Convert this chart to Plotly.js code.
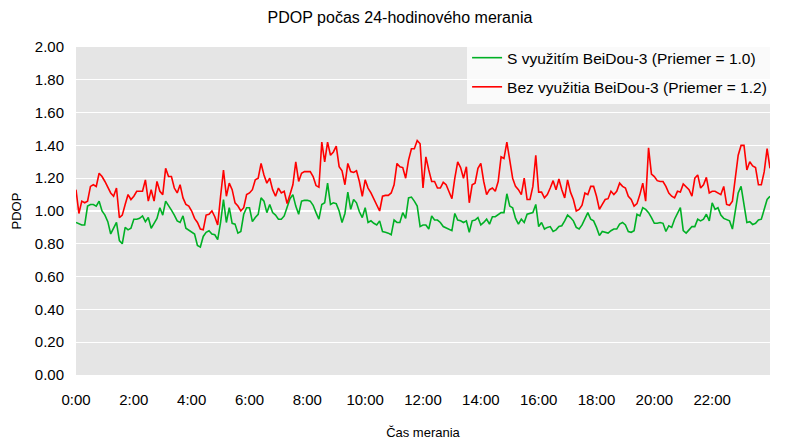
<!DOCTYPE html>
<html>
<head>
<meta charset="utf-8">
<script src="https://cdn.plot.ly/plotly-3.0.1.min.js"></script>
<style>html,body{margin:0;padding:0;background:#fff;}#chart{width:800px;height:443px;}</style>
</head>
<body>
<div id="chart"></div>
<script>
// sampling of the measurement (one sample every 6 minutes, starting 0:00)
const stepMinutes = 6;

const pdopWithBds3 = [
0.93,0.92,0.915,0.915,1.03,1.04,1.04,1.03,1.06,1.00,0.975,0.935,0.86,0.895,0.93,0.82,0.80,0.90,0.885,0.895,
0.95,0.95,0.955,0.97,0.935,0.96,0.895,0.925,0.955,1.02,0.975,1.06,1.035,1.005,0.975,0.94,0.93,0.97,0.895,0.885,
0.87,0.86,0.79,0.78,0.845,0.87,0.88,0.86,0.855,0.825,0.93,1.07,0.93,1.02,0.925,0.92,0.865,0.875,0.98,1.02,
1.02,0.935,0.96,0.98,1.08,1.06,0.99,1.04,0.99,0.975,0.95,0.95,0.97,1.03,1.075,1.10,1.03,0.98,1.06,1.065,
1.065,1.06,1.035,0.99,0.95,1.04,1.05,1.17,1.04,1.05,1.045,1.00,0.93,0.985,1.115,1.01,1.07,1.05,0.995,0.96,
1.02,0.93,0.94,0.925,0.915,0.94,0.875,0.87,0.865,0.855,0.945,0.93,0.93,0.99,0.955,1.08,1.085,1.06,1.03,0.905,
0.915,0.915,0.89,0.97,0.945,0.945,0.93,0.905,0.895,0.885,0.88,0.985,0.945,0.94,0.93,0.94,0.87,0.94,0.945,0.96,
0.915,0.93,0.95,0.92,0.965,0.965,0.98,0.99,0.99,1.105,1.03,1.02,0.955,0.92,0.95,0.93,0.98,0.985,0.99,1.04,
0.905,0.93,0.89,0.90,0.905,0.875,0.885,0.905,0.91,0.94,0.975,0.96,0.94,0.90,0.89,0.915,0.95,0.99,0.95,0.94,
0.90,0.85,0.875,0.87,0.865,0.88,0.89,0.89,0.92,0.93,0.915,0.875,0.87,0.88,0.98,0.97,1.02,1.01,0.99,0.96,
0.925,0.925,0.93,0.925,0.875,0.91,0.90,0.95,0.985,1.02,0.88,0.865,0.885,0.905,0.905,0.95,0.94,0.95,0.98,0.94,
1.05,1.01,1.02,0.975,0.955,0.945,0.94,0.89,0.99,1.11,1.15,1.03,0.93,0.935,0.918,0.925,0.945,0.95,1.005,1.07,
1.09
];

const pdopWithoutBds3 = [
1.13,0.985,1.06,1.05,1.06,1.15,1.16,1.15,1.23,1.21,1.18,1.14,1.11,1.09,1.14,0.96,0.975,1.04,1.10,1.07,
1.09,1.12,1.12,1.12,1.19,1.06,1.13,1.06,1.18,1.12,1.10,1.26,1.21,1.21,1.14,1.11,1.16,1.08,1.04,1.03,
1.00,0.955,0.93,0.89,0.885,0.975,0.98,1.00,0.965,0.915,1.09,1.25,1.09,1.17,1.13,1.05,1.03,1.00,1.02,1.10,
1.11,1.13,1.19,1.20,1.29,1.22,1.17,1.20,1.13,1.09,1.14,1.11,1.12,1.045,1.10,1.16,1.30,1.18,1.23,1.24,
1.24,1.24,1.21,1.155,1.145,1.42,1.30,1.42,1.34,1.36,1.395,1.27,1.245,1.16,1.29,1.24,1.235,1.245,1.18,1.09,
1.19,1.14,1.11,1.07,1.04,1.00,1.09,1.095,1.095,1.11,1.16,1.29,1.27,1.265,1.20,1.31,1.38,1.38,1.43,1.41,
1.14,1.33,1.25,1.18,1.18,1.14,1.14,1.175,1.16,1.12,1.075,1.20,1.30,1.265,1.20,1.27,1.05,1.16,1.17,1.26,
1.29,1.18,1.10,1.13,1.14,1.12,1.18,1.33,1.32,1.42,1.30,1.20,1.15,1.13,1.10,1.20,1.07,1.07,1.15,1.34,
1.115,1.115,1.08,1.10,1.14,1.185,1.13,1.195,1.13,1.08,1.19,1.115,1.07,1.00,1.01,1.035,1.11,1.10,1.15,1.15,
1.09,1.01,1.04,1.07,1.075,1.12,1.10,1.12,1.17,1.15,1.14,1.09,1.07,1.03,1.045,1.10,1.17,1.06,1.385,1.225,
1.21,1.185,1.18,1.18,1.15,1.11,1.09,1.08,1.12,1.115,1.165,1.15,1.13,1.09,1.20,1.22,1.14,1.16,1.205,1.11,
1.12,1.12,1.11,1.10,1.15,1.04,1.035,1.06,1.20,1.34,1.40,1.40,1.25,1.30,1.275,1.265,1.16,1.16,1.24,1.38,
1.26
];

const seriesNames = ['S využitím BeiDou-3 (Priemer = 1.0)', 'Bez využitia BeiDou-3 (Priemer = 1.2)'];
const tickHours = [0,2,4,6,8,10,12,14,16,18,20,22];
const tickLabels = ['0:00','2:00','4:00','6:00','8:00','10:00','12:00','14:00','16:00','18:00','20:00','22:00'];

const hours = pdopWithBds3.map((_, i) => i * stepMinutes / 60);

const traces = [
  {x: hours, y: pdopWithBds3, name: seriesNames[0], type: 'scatter', mode: 'lines',
   legendgroup: 'g1', line: {color: '#00b025', width: 1.6}},
  {x: hours, y: pdopWithoutBds3, name: seriesNames[1], type: 'scatter', mode: 'lines',
   legendgroup: 'g2', line: {color: '#ff0000', width: 1.6}}
];

const layout = {
  width: 800, height: 443,
  margin: {l: 76, r: 30, t: 47, b: 68},
  paper_bgcolor: '#ffffff',
  plot_bgcolor: '#e5e5e5',
  font: {family: 'Liberation Sans, Arial, sans-serif', size: 15, color: '#000'},
  title: {text: 'PDOP počas 24-hodinového merania', x: 0.5, xanchor: 'center', y: 0.96, yanchor: 'middle',
          font: {size: 16, color: '#000'}},
  xaxis: {range: [0, 24], tickvals: tickHours, ticktext: tickLabels, showgrid: false, zeroline: false,
          ticks: '', showline: false, tickfont: {size: 15}, ticklabelstandoff: 14,
          title: {text: 'Čas merania', font: {size: 13}, standoff: 20}},
  yaxis: {range: [0, 2], dtick: 0.2, tick0: 0, tickformat: '.2f', showgrid: true, gridcolor: '#ffffff',
          gridwidth: 1.2, zeroline: false, ticks: '', tickfont: {size: 15}, ticklabelstandoff: 11,
          title: {text: 'PDOP', font: {size: 13}, standoff: 10}},
  showlegend: true,
  legend: {x: 1.003, xanchor: 'right', y: 1.018, yanchor: 'top', bgcolor: 'rgba(255,255,255,0.8)',
           borderwidth: 0, font: {size: 15.5}, traceorder: 'grouped', tracegroupgap: 6, itemwidth: 30}
};

Plotly.newPlot('chart', traces, layout, {displayModeBar: false, staticPlot: true});
</script>
</body>
</html>
